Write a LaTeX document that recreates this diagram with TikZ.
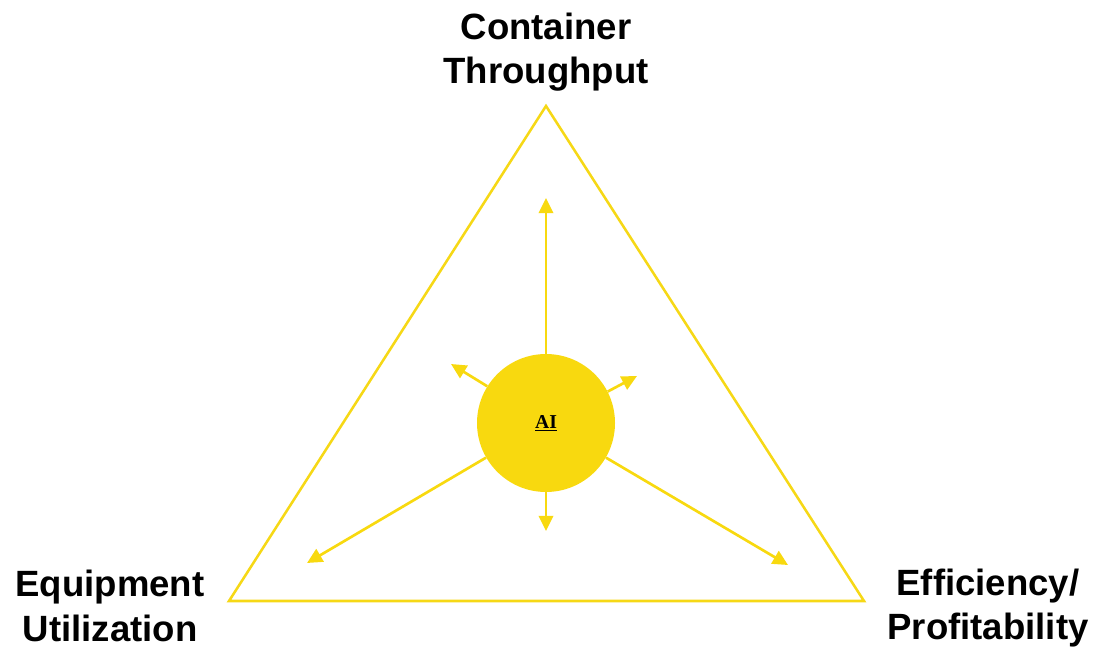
\documentclass[tikz,border=0pt]{standalone}
\usepackage{fontspec}
\setmainfont{Liberation Sans}
\newfontfamily\aiserif{Liberation Serif}
\usepackage{tikz}
\usetikzlibrary{positioning,calc,arrows.meta}
\definecolor{aiyellow}{HTML}{F8D90F}
\definecolor{edgeyellow}{HTML}{F6D816}

\begin{document}
\begin{tikzpicture}[font=\bfseries\fontsize{26}{31.5}\selectfont,
  goal/.style={align=center,text=black},
  side/.style={draw=edgeyellow,line width=1.8pt,line join=miter},
  push/.style={-{Triangle[length=3.8mm,width=3.6mm]},draw=aiyellow,line width=1.9pt}]
  \useasboundingbox (0,0) rectangle (27.425,-16.225);

  % corners of the triangle
  \coordinate (top)   at (13.65,-2.65);
  \coordinate (left)  at (5.725,-15.025);
  \coordinate (right) at (21.6,-15.025);
  \draw[side] (top) -- (left) -- (right) -- cycle;

  \node[goal] (thru) at (13.65,-1.3)   {Container\\Throughput};
  \node[goal] (util) at (2.75,-15.15)  {Equipment\\Utilization};
  \node[goal] (prof) at (24.7,-15.2)   {Efficiency/\\Profitability};

  \node[circle,fill=aiyellow,minimum size=3.45cm,inner sep=0pt,
        font=\aiserif\bfseries\fontsize{14}{16}\selectfont] (ai) at (13.65,-10.575) {\underline{AI}};

  % free ends of the arrows
  \coordinate (upE)   at (13.65,-4.95);
  \coordinate (downE) at (13.65,-13.275);
  \coordinate (ulE)   at (11.275,-9.1);
  \coordinate (urE)   at (15.925,-9.4);
  \coordinate (llE)   at (7.675,-14.075);
  \coordinate (lrE)   at (19.7,-14.125);

  \draw[push] (ai.north) -- (upE);
  \draw[push] (ai.south) -- (downE);
  \draw[push] (ai.148)   -- (ulE);
  \draw[push] (ai.27)    -- (urE);
  \draw[push] (ai.210)   -- (llE);
  \draw[push] (ai.-30)   -- (lrE);
\end{tikzpicture}
\end{document}
